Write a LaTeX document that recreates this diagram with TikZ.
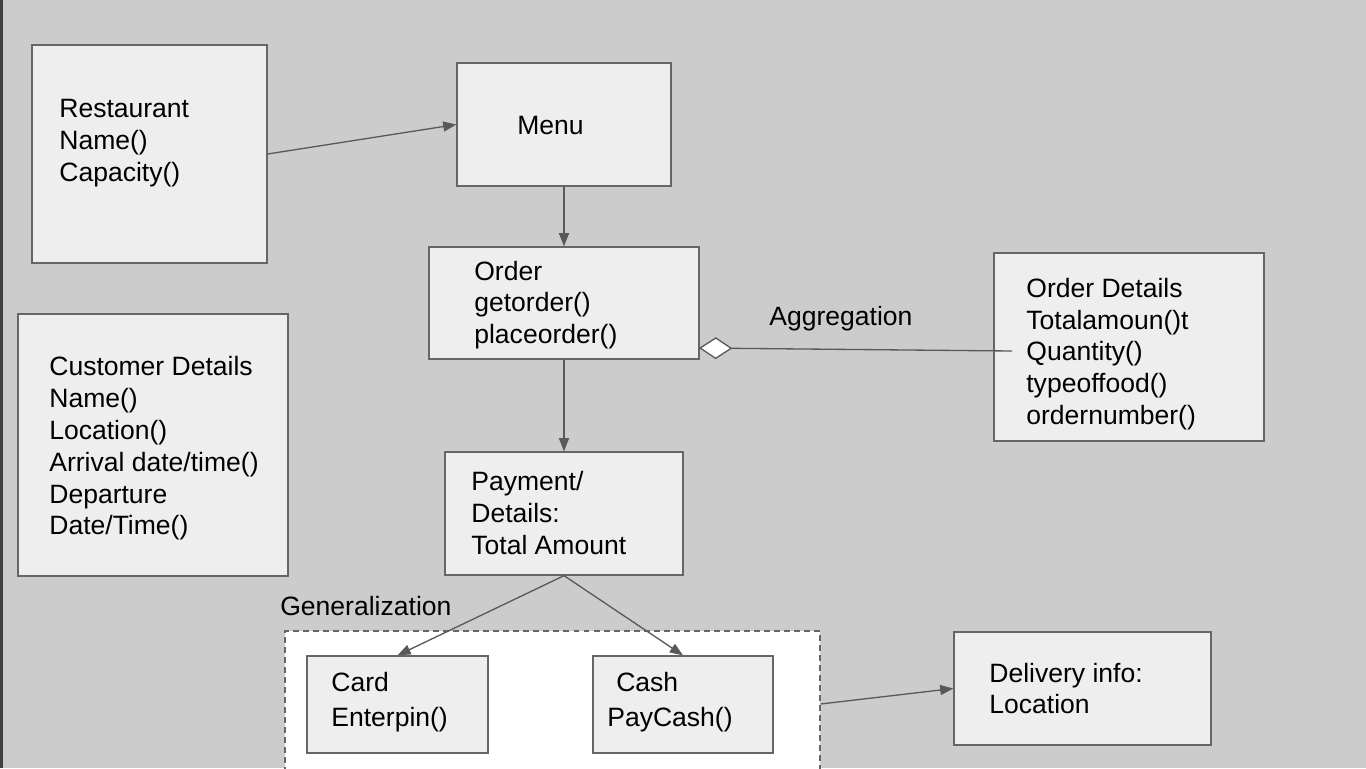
\documentclass[tikz,border=0pt]{standalone}
\usepackage{fontspec}
\setmainfont{Liberation Sans}
\usepackage{xcolor}
\usepackage{tikz}
\usetikzlibrary{arrows.meta}

\definecolor{canvas}{HTML}{CCCCCC}
\definecolor{boxfill}{HTML}{EEEEEE}
\definecolor{boxline}{HTML}{666666}
\definecolor{linkline}{HTML}{595959}

\begin{document}
\begin{tikzpicture}[x=0.02cm,y=-0.02cm,
	box/.style={draw=boxline,fill=boxfill,line width=0.75pt,inner sep=0pt},
	txt/.style={anchor=west,align=left,inner sep=0pt,font=\fontsize{15.1}{18.1}\selectfont},
	link/.style={draw=linkline,line width=0.75pt,-{Triangle[length=7.5pt,width=5.7pt]}}]
	% background
	\fill[canvas] (0,0) rectangle (1366,768);
	\useasboundingbox (0,0) rectangle (1366,768);
	\draw[black!75,line width=2.2pt] (1,0) -- (1,768);
	% classes
	\node (rest) at(149.5,154)[box,minimum width=4.70cm,minimum height=4.36cm]{};
	\node (menu) at(564,124.5)[box,minimum width=4.28cm,minimum height=2.46cm]{};
	\node (order) at(564,303)[box,minimum width=5.40cm,minimum height=2.24cm]{};
	\node (odet) at(1129,347)[box,minimum width=5.40cm,minimum height=3.76cm]{};
	\node (cust) at(153,445)[box,minimum width=5.40cm,minimum height=5.24cm]{};
	\node (pay) at(564,513.5)[box,minimum width=4.76cm,minimum height=2.46cm]{};
	\node (gen) at(552.5,704)[draw=boxline,fill=white,line width=0.75pt,dash pattern=on 3.4pt off 2.3pt,minimum width=10.70cm,minimum height=2.92cm]{};
	\node (card) at(397.5,704.5)[box,minimum width=3.62cm,minimum height=1.94cm]{};
	\node (cash) at(683,704.5)[box,minimum width=3.60cm,minimum height=1.94cm]{};
	\node (deliv) at(1082.5,688.5)[box,minimum width=5.14cm,minimum height=2.26cm]{};
	% texts
	\node (resttxt) at(59,143)[txt]{Restaurant\\Name()\\Capacity()};
	\node (menutxt) at(517,125)[txt]{Menu};
	\node (ordertxt) at(474,305)[txt]{Order\\getorder()\\placeorder()};
	\node (odettxt) at(1026,354)[txt]{Order Details\\Totalamoun()t\\Quantity()\\typeoffood()\\ordernumber()};
	\node (custtxt) at(49,448.5)[txt]{Customer Details\\Name()\\Location()\\Arrival date/time()\\Departure\\Date/Time()};
	\node (paytxt) at(471,513)[txt]{Payment/\\Details:\\Total Amount};
	\node (cardtxt) at(331,702)[txt,font=\fontsize{15.1}{20.3}\selectfont]{Card\\Enterpin()};
	\node (cashtxt) at(607,702)[txt,font=\fontsize{15.1}{20.3}\selectfont]{\hspace{5.1pt}Cash\\PayCash()};
	\node (delivtxt) at(989,688.5)[txt]{Delivery info:\\Location};
	\node (gentxt) at(280,606)[txt]{Generalization};
	\node (aggtxt) at(769,319)[txt]{Aggregation};
	% connectors
	\draw[link] (rest.east) -- (menu.west);
	\draw[link] (menu.south) -- (order.north);
	\draw[link] (order.south) -- (pay.north);
	\draw[link] (pay.south) -- (card.north);
	\draw[link] (pay.south) -- (cash.north);
	\draw[link] (gen.east) -- (deliv.west);
	\coordinate (aggstart) at(699,348);
	\coordinate (aggend) at(1012,351);
	\draw[draw=linkline,line width=0.75pt,{Diamond[fill=white,length=19pt,width=12.5pt]}-] (aggstart) -- (aggend);
\end{tikzpicture}
\end{document}
